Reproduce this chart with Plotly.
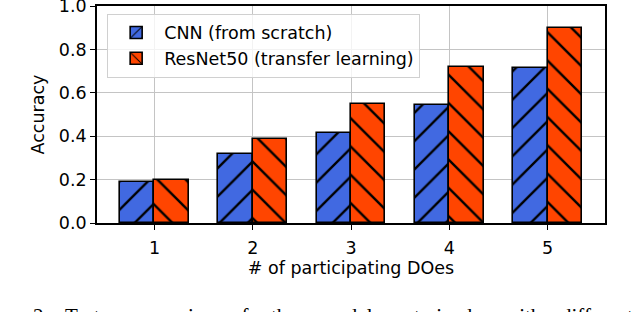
import plotly.graph_objects as go

categories = [1, 2, 3, 4, 5]
cnn_acc = [0.19, 0.32, 0.413, 0.545, 0.715]
resnet_acc = [0.20, 0.385, 0.55, 0.72, 0.90]
series_names = ["CNN (from scratch)", "ResNet50 (transfer learning)"]
y_ticks = [0.0, 0.2, 0.4, 0.6, 0.8, 1.0]
x_title = "# of participating DOes"
y_title = "Accuracy"
caption_words = ["Fig.", "2:", "Test", "accuracies", "of", "the", "models", "trained", "with", "different"]
caption_px = [-20, 31, 63, 122, 229, 269, 318, 412, 502, 559]

bar_w = 0.35
font = "DejaVu Sans"
fs = 17.5
L, R, T, B = 97, 35, 6, 89
W, H = 640, 312
plot_w = W - L - R

fig = go.Figure()
fig.add_trace(go.Bar(
    x=[c - bar_w / 2 for c in categories], y=cnn_acc, width=bar_w, name=series_names[0],
    marker=dict(color="#4169E1", line=dict(color="black", width=1.6),
                pattern=dict(shape="/", fgcolor="black", fgopacity=1, bgcolor="#4169E1",
                             size=20, solidity=0.12)),
))
fig.add_trace(go.Bar(
    x=[c + bar_w / 2 for c in categories], y=resnet_acc, width=bar_w, name=series_names[1],
    marker=dict(color="#FF4500", line=dict(color="black", width=1.6),
                pattern=dict(shape="\\", fgcolor="black", fgopacity=1, bgcolor="#FF4500",
                             size=20, solidity=0.12)),
))

axis_common = dict(showline=True, linecolor="black", linewidth=1.6, mirror=True,
                   ticks="outside", ticklen=5, tickwidth=1.3, tickcolor="black",
                   showgrid=True, gridcolor="#c4c4c4", gridwidth=1.2, zeroline=False,
                   automargin=False, ticklabeloverflow="allow",
                   tickfont=dict(family=font, size=fs, color="black"))

fig.update_layout(
    width=W, height=H,
    margin=dict(l=L, r=R, t=T, b=B, autoexpand=False),
    paper_bgcolor="white", plot_bgcolor="white",
    barmode="overlay", bargap=0,
    font=dict(family=font, size=fs, color="black"),
    showlegend=True,
    legend=dict(x=0.02, y=0.965, xanchor="left", yanchor="top",
                bgcolor="rgba(255,255,255,0.8)", bordercolor="#d0d0d0", borderwidth=1,
                font=dict(family=font, size=fs), itemwidth=46, tracegroupgap=0),
    xaxis=dict(axis_common, range=[0.415, 5.585], tickvals=categories,
               ticktext=[str(c) for c in categories], ticklabelstandoff=3,
               title=dict(text=x_title, font=dict(family=font, size=fs), standoff=5)),
    yaxis=dict(axis_common, range=[0, 1.0], tickvals=y_ticks,
               ticktext=[f"{v:.1f}" for v in y_ticks],
               title=dict(text=y_title, font=dict(family=font, size=fs), standoff=10)),
)

for w, xp in zip(caption_words, caption_px):
    fig.add_annotation(text=w, x=(xp - L) / plot_w, y=0, xref="paper", yref="paper",
                       xanchor="left", yanchor="top", yshift=-(302 - (H - B)),
                       showarrow=False, font=dict(family="Liberation Serif", size=21, color="black"))

fig.write_html("out.html", config={"displayModeBar": False},
               post_script="document.body.style.margin='0';")
